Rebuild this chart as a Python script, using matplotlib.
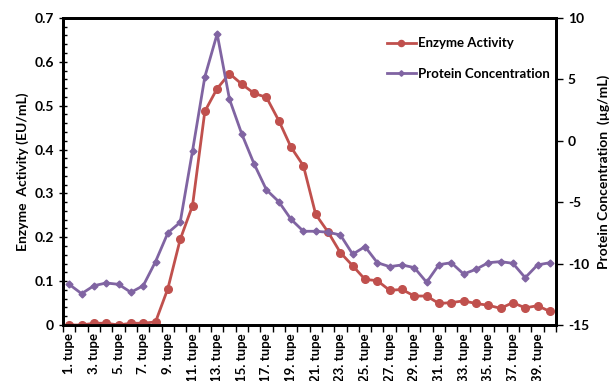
import numpy as np
import matplotlib.pyplot as plt
from matplotlib.ticker import MultipleLocator, FixedLocator

plt.rcParams['font.family'] = ['Lato', 'DejaVu Sans']

tubes = [f"{i}. tupe" for i in range(1, 41)]

enzyme = [0.0, 0.0, 0.004, 0.004, 0.0, 0.004, 0.004, 0.007, 0.083, 0.195,
          0.272, 0.487, 0.539, 0.573, 0.549, 0.528, 0.519, 0.466, 0.405, 0.363,
          0.252, 0.212, 0.165, 0.135, 0.104, 0.101, 0.079, 0.081, 0.066, 0.066,
          0.049, 0.051, 0.055, 0.049, 0.045, 0.038, 0.051, 0.039, 0.044, 0.031]

protein = [-11.7, -12.45, -11.8, -11.58, -11.69, -12.34, -11.8, -9.84, -7.5, -6.64,
           -0.83, 5.2, 8.7, 3.38, 0.55, -1.89, -4.0, -4.96, -6.4, -7.37,
           -7.37, -7.45, -7.67, -9.24, -8.62, -9.93, -10.25, -10.11, -10.33, -11.52,
           -10.09, -9.93, -10.85, -10.47, -9.93, -9.84, -9.98, -11.15, -10.11, -9.93]

red = '#C0504D'
purple = '#8064A2'

fig = plt.figure(figsize=(6.13, 3.81), dpi=100)
ax = fig.add_axes([0.103, 0.147, 0.804, 0.806])
ax2 = ax.twinx()

x = np.arange(len(tubes))
l1, = ax.plot(x, enzyme, color=red, lw=2, marker='o', ms=5.5, label='Enzyme Activity', zorder=3)
l2, = ax2.plot(x, protein, color=purple, lw=2, marker='D', ms=3.5, label='Protein Concentration')

ax.set_xlim(-0.5, len(tubes) - 0.5)
ax.set_ylim(0, 0.7)
ax2.set_ylim(-15, 10)

ax.yaxis.set_minor_locator(MultipleLocator(0.02))
ax.set_yticks(np.arange(0, 0.75, 0.1))
ax.set_yticklabels(['0'] + [f"{v:.1f}" for v in np.arange(0.1, 0.75, 0.1)], fontweight='bold', fontsize=10)
ax.tick_params(axis='y', which='major', direction='inout', length=6, width=1)
ax.tick_params(axis='y', which='minor', direction='in', length=3, width=1)

ax2.set_yticks(np.arange(-15, 11, 5))
ax2.set_yticklabels([str(v) for v in range(-15, 11, 5)], fontweight='bold', fontsize=10)
ax2.tick_params(axis='y', direction='out', length=5, width=1)

# category labels on every other tube, separators between tubes
ax.set_xticks(x[::2])
ax.set_xticklabels(tubes[::2], rotation=90, fontsize=9.5, fontweight='bold')
ax.xaxis.set_minor_locator(FixedLocator(np.arange(-0.5, len(tubes), 1)))
ax.tick_params(axis='x', which='major', length=0, pad=6)
ax.tick_params(axis='x', which='minor', direction='out', length=5, width=1)

for a in (ax, ax2):
    for s in a.spines.values():
        s.set_linewidth(2)
        s.set_color('black')

ax.set_ylabel('Enzyme  Activity (EU/mL)', fontweight='bold', fontsize=10, labelpad=4)
ax2.set_ylabel('Protein Concentration  (µg/mL)', fontweight='bold', fontsize=10, labelpad=6)

ax.legend([l1, l2], ['Enzyme Activity', 'Protein Concentration'], loc='upper right',
          bbox_to_anchor=(1.012, 0.975), frameon=False, prop={'weight': 'bold', 'size': 9.5},
          handlelength=2.2, handletextpad=0.2, labelspacing=1.4, markerscale=0.8)

fig.savefig('out.png', dpi=100)
